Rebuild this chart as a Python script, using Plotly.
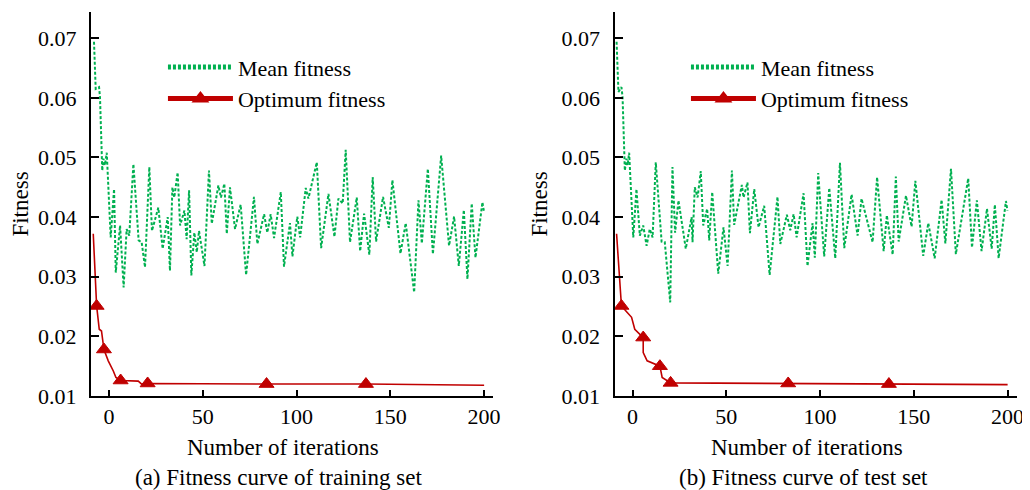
import plotly.graph_objects as go
from plotly.subplots import make_subplots

# mean fitness, training set (a)
mean_a_x = [-8.0, -7.1, -5.3, -4.8, -3.6, -3.0, -2.2, -1.2, 0.9, 2.7,
            3.6, 5.9, 7.8, 9.4, 10.8, 13.0, 15.8, 17.4, 19.2, 21.5,
            22.9, 24.5, 26.3, 28.6, 31.3, 32.5, 33.8, 34.8, 36.6, 37.9,
            40.2, 41.4, 42.7, 43.9, 45.5, 46.8, 48.0, 50.9, 53.3, 54.8,
            58.3, 59.7, 61.5, 62.8, 64.5, 67.2, 70.2, 73.1, 77.3, 79.1,
            82.7, 84.4, 86.2, 88.0, 91.6, 93.3, 96.5, 97.8, 100.4, 101.9,
            104.9, 106.3, 110.8, 113.1, 117.0, 120.2, 122.3, 124.6, 126.2, 128.5,
            132.1, 133.9, 136.0, 138.8, 140.6, 142.4, 146.1, 149.2, 151.1, 155.4,
            158.2, 162.7, 165.0, 166.8, 170.0, 172.7, 177.1, 181.3, 184.0, 186.5,
            189.2, 191.1, 193.4, 195.4, 199.1, 200.0]
mean_a_y = [0.0694, 0.0615, 0.0618, 0.0601, 0.0478, 0.0498, 0.0487, 0.0508, 0.0366, 0.0447,
            0.0307, 0.0386, 0.0282, 0.0380, 0.0369, 0.0489, 0.0361, 0.0358, 0.0316, 0.0484,
            0.0377, 0.0397, 0.0416, 0.0347, 0.0400, 0.0310, 0.0450, 0.0433, 0.0475, 0.0386,
            0.0411, 0.0363, 0.0445, 0.0302, 0.0374, 0.0341, 0.0377, 0.0318, 0.0478, 0.0389,
            0.0453, 0.0433, 0.0456, 0.0372, 0.0450, 0.0380, 0.0421, 0.0303, 0.0434, 0.0355,
            0.0405, 0.0374, 0.0405, 0.0365, 0.0442, 0.0317, 0.0390, 0.0334, 0.0401, 0.0366,
            0.0449, 0.0431, 0.0492, 0.0348, 0.0439, 0.0367, 0.0431, 0.0423, 0.0513, 0.0358,
            0.0433, 0.0343, 0.0406, 0.0337, 0.0467, 0.0359, 0.0434, 0.0382, 0.0462, 0.0339,
            0.0390, 0.0274, 0.0428, 0.0356, 0.0481, 0.0338, 0.0503, 0.0352, 0.0401, 0.0318,
            0.0412, 0.0296, 0.0423, 0.0332, 0.0425, 0.0408]

# optimum fitness, training set (a)
opt_a_x = [-8.4, -6.6, -5.2, -4.0, -2.7, -0.4, 2.3, 3.7, 6.2, 10.0, 15.6, 17.4, 20.6, 84.0, 137.0, 200.0]
opt_a_y = [0.0372, 0.0251, 0.0212, 0.0209, 0.0178, 0.0159, 0.0142, 0.0131, 0.0126, 0.0126,
           0.0125, 0.0120, 0.0121, 0.0120, 0.0120, 0.0118]
opt_a_mark = [0, 1, 0, 0, 1, 0, 0, 0, 1, 0, 0, 0, 1, 1, 1, 0]

# mean fitness, test set (b)
mean_b_x = [-8.5, -7.5, -5.9, -5.3, -4.1, -3.2, -2.6, -1.8, 0.4, 2.1,
            3.9, 5.7, 7.5, 9.2, 10.7, 12.4, 15.5, 17.2, 20.1, 21.3,
            22.7, 24.5, 28.4, 31.5, 32.0, 33.2, 34.7, 36.4, 37.7, 39.8,
            40.9, 42.5, 45.7, 48.5, 50.7, 53.0, 54.2, 58.3, 59.2, 61.3,
            62.6, 64.9, 67.2, 70.2, 73.1, 77.3, 78.8, 82.3, 84.1, 85.9,
            87.5, 91.2, 93.3, 96.0, 97.2, 99.0, 102.2, 104.9, 108.1, 110.6,
            112.9, 116.8, 120.0, 122.1, 128.0, 130.4, 133.9, 135.6, 138.7, 140.4,
            141.9, 145.8, 148.8, 150.8, 155.0, 157.7, 161.1, 164.8, 166.8, 169.8,
            172.4, 179.0, 181.0, 183.6, 186.1, 189.0, 191.5, 193.2, 195.2, 199.1,
            199.9]
mean_b_y = [0.0694, 0.0610, 0.0618, 0.0601, 0.0478, 0.0498, 0.0487, 0.0508, 0.0366, 0.0447,
            0.0369, 0.0386, 0.0352, 0.0380, 0.0366, 0.0492, 0.0359, 0.0358, 0.0257, 0.0484,
            0.0374, 0.0428, 0.0347, 0.0400, 0.0358, 0.0450, 0.0433, 0.0477, 0.0386, 0.0414,
            0.0361, 0.0442, 0.0305, 0.0383, 0.0318, 0.0478, 0.0387, 0.0454, 0.0433, 0.0458,
            0.0373, 0.0447, 0.0383, 0.0419, 0.0303, 0.0434, 0.0355, 0.0404, 0.0378, 0.0405,
            0.0366, 0.0440, 0.0318, 0.0390, 0.0332, 0.0474, 0.0334, 0.0449, 0.0331, 0.0491,
            0.0348, 0.0438, 0.0369, 0.0431, 0.0358, 0.0467, 0.0343, 0.0403, 0.0337, 0.0468,
            0.0359, 0.0436, 0.0384, 0.0461, 0.0335, 0.0390, 0.0331, 0.0429, 0.0356, 0.0481,
            0.0338, 0.0465, 0.0349, 0.0428, 0.0343, 0.0414, 0.0347, 0.0421, 0.0331, 0.0427,
            0.0411]

# optimum fitness, test set (b)
opt_b_x = [-8.5, -5.9, -2.8, -0.5, 1.2, 5.7, 5.7, 7.8, 14.6, 15.8, 20.3, 83.0, 136.7, 200.0]
opt_b_y = [0.0372, 0.0251, 0.0240, 0.0232, 0.0212, 0.0198, 0.0173, 0.0159, 0.0150, 0.0131,
           0.0122, 0.0121, 0.0120, 0.0119]
opt_b_mark = [0, 1, 0, 0, 0, 1, 0, 0, 1, 0, 1, 1, 1, 0]

x_ticks = [0, 50, 100, 150, 200]
y_ticks = [0.01, 0.02, 0.03, 0.04, 0.05, 0.06, 0.07]
captions = ["(a) Fitness curve of training set", "(b) Fitness curve of test set"]

GREEN = "#00b050"
RED = "#c00000"
FONT = "Times New Roman, Liberation Serif, serif"

# page body keeps an 8px margin, so the figure is a bit smaller than the window
fig = make_subplots(rows=1, cols=2, horizontal_spacing=0.1307)

panels = [(mean_a_x, mean_a_y, opt_a_x, opt_a_y, opt_a_mark, "legend"),
          (mean_b_x, mean_b_y, opt_b_x, opt_b_y, opt_b_mark, "legend2")]

for i, (mx, my, ox, oy, om, lg) in enumerate(panels):
    col = i + 1
    fig.add_trace(go.Scatter(x=mx, y=my, mode="lines", name="Mean fitness",
                             line=dict(color=GREEN, width=2, dash="3px,2px"),
                             legend=lg), row=1, col=col)
    # array sizes would make plotly treat it as a bubble trace (0.7 opacity)
    fig.add_trace(go.Scatter(x=ox, y=oy, mode="lines+markers", name="Optimum fitness",
                             line=dict(color=RED, width=1.6),
                             marker=dict(symbol="triangle-up", color=RED, opacity=1,
                                         size=[13 if m else 0 for m in om],
                                         line=dict(color=RED, width=1)),
                             legend=lg), row=1, col=col)

axis_common = dict(showline=True, linecolor="black", linewidth=2, ticks="inside",
                   tickcolor="black", tickwidth=2, showgrid=False, zeroline=False,
                   tickfont=dict(family=FONT, size=22, color="black"))

fig.update_xaxes(range=[-9.6, 205], tickvals=x_ticks, ticklen=6, **axis_common)
fig.update_yaxes(range=[0.01, 0.0744], tickvals=y_ticks, tickformat=".2f", ticklen=8,
                 ticklabelstandoff=8,
                 title=dict(text="Fitness", font=dict(family=FONT, size=23, color="black"),
                            standoff=8),
                 **axis_common)

leg_common = dict(bgcolor="rgba(0,0,0,0)", borderwidth=0, itemsizing="constant",
                  itemwidth=65, font=dict(family=FONT, size=22, color="black"),
                  xanchor="left", yanchor="top", tracegroupgap=0)
fig.update_layout(
    legend=dict(x=0.0777, y=0.911, **leg_common),
    legend2=dict(x=0.6425, y=0.911, **leg_common),
)

title_x = [0.2073, 0.7732]
caption_x = [0.2030, 0.7689]
for i, cap in enumerate(captions):
    fig.add_annotation(text="Number of iterations", x=title_x[i], y=-0.135,
                       xref="paper", yref="paper", showarrow=False,
                       xanchor="center", yanchor="middle",
                       font=dict(family=FONT, size=23, color="black"))
    fig.add_annotation(text=cap, x=caption_x[i], y=-0.211,
                       xref="paper", yref="paper", showarrow=False,
                       xanchor="center", yanchor="middle",
                       font=dict(family=FONT, size=23, color="black"))

fig.update_layout(
    width=1022, height=482,
    margin=dict(l=83, r=13, t=4, b=94),
    plot_bgcolor="white", paper_bgcolor="white",
    font=dict(family=FONT, size=22, color="black"),
)

fig.write_html("out.html")
